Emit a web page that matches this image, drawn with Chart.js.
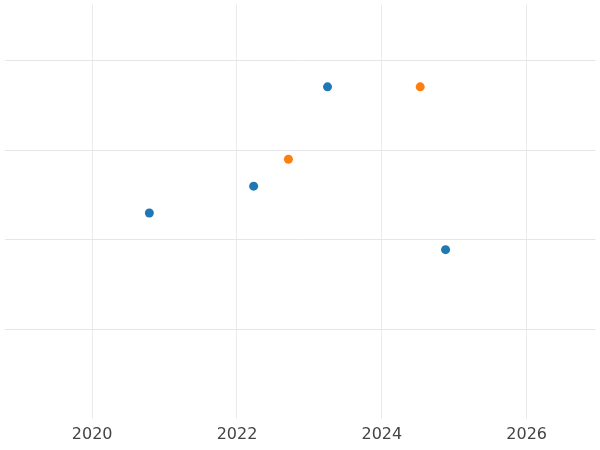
<!DOCTYPE html>
<html>
<head>
<style>html,body{margin:0;padding:0;background:#fff}#wrap{width:600px;height:450px}</style>
<script src="https://cdn.jsdelivr.net/npm/chart.js"></script>
</head>
<body>
<div id="wrap"><canvas id="c"></canvas></div>
<script>
const blueX = [2020.79, 2022.23, 2023.25, 2024.88];
const blueY = [2.30, 2.60, 3.71, 1.89];
const orangeX = [2022.71, 2024.53];
const orangeY = [2.90, 3.71];
const xTicks = [2020, 2022, 2024, 2026];
const yTicks = [1, 2, 3, 4];

const pts = (xs, ys) => xs.map((x, i) => ({x: x, y: ys[i]}));

new Chart(document.getElementById("c"), {
  type: 'scatter',
  data: {
    datasets: [
      {data: pts(blueX, blueY), backgroundColor: '#1f77b4', borderWidth: 0, pointRadius: 4.5},
      {data: pts(orangeX, orangeY), backgroundColor: '#ff7f0e', borderWidth: 0, pointRadius: 4.5}
    ]
  },
  options: {
    responsive: true,
    maintainAspectRatio: false,
    animation: false,
    layout: {padding: {left: -5, right: -5, top: -5, bottom: 0}},
    plugins: {legend: {display: false}, tooltip: {enabled: false}},
    scales: {
      x: {
        type: 'linear', min: 2018.79, max: 2026.95,
        afterBuildTicks: s => { s.ticks = xTicks.map(v => ({value: v})); },
        grid: {color: '#ebebeb', drawTicks: false},
        border: {display: false},
        ticks: {color: '#444', font: {family: 'DejaVu Sans', size: 16}, padding: 6, callback: v => String(v)}
      },
      y: {
        min: 0, max: 4.63,
        afterBuildTicks: s => { s.ticks = yTicks.map(v => ({value: v})); },
        grid: {color: '#e6e6e6', drawTicks: false},
        border: {display: false},
        ticks: {display: false}
      }
    }
  }
});
</script>
</body>
</html>
